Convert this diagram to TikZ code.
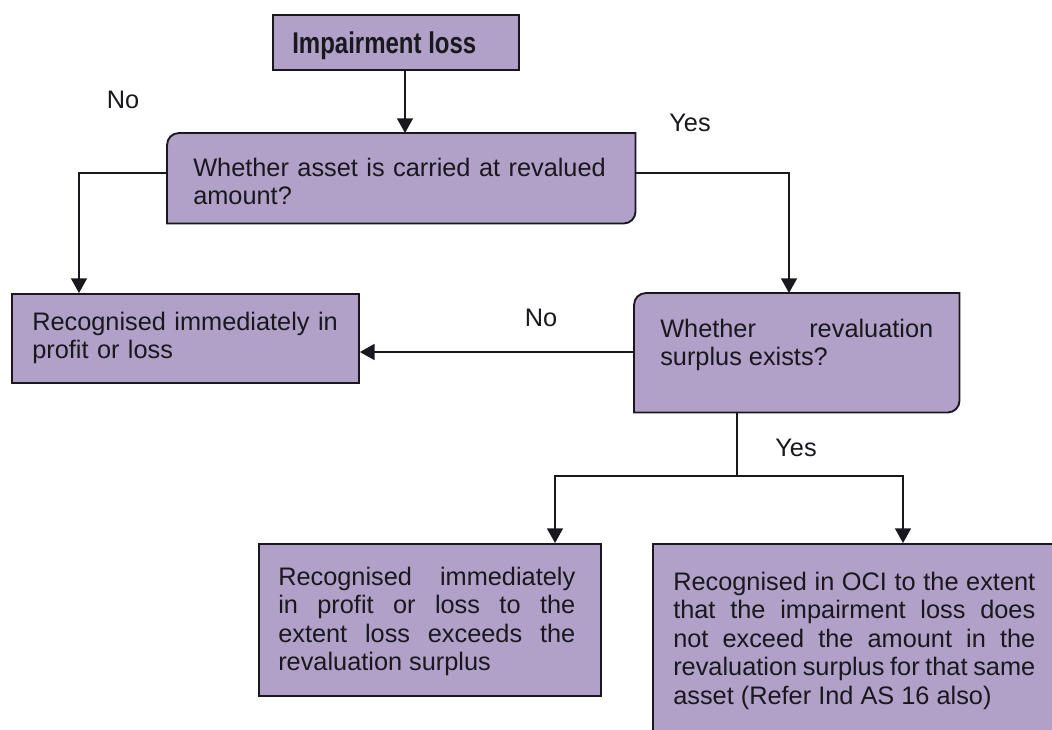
\documentclass[tikz,border=0pt]{standalone}
\usepackage{fontspec}
\setmainfont{Liberation Sans}
\usetikzlibrary{arrows.meta}
\definecolor{boxfill}{RGB}{177,160,199}
\definecolor{ink}{RGB}{26,24,30}
\newcommand\flowfont{\fontsize{19}{21.4}\selectfont}
\hbadness=10000
\hfuzz=20pt

\begin{document}
\begin{tikzpicture}[x=0.75pt,y=-0.75pt,
  box/.style={draw=ink, fill=boxfill, line width=1.4pt, inner sep=0pt, anchor=north west},
  ghost/.style={inner sep=0pt, anchor=north west},
  shapeline/.style={draw=ink, fill=boxfill, line width=1.4pt},
  txt/.style={anchor=base west, inner sep=0pt, text=ink, font=\flowfont, align=left},
  jtxt/.style={txt, align=justify},
  lbl/.style={anchor=base, inner sep=0pt, text=ink, font=\flowfont},
  flow/.style={draw=ink, line width=1.1pt},
  arr/.style={flow, -{Triangle[length=11pt,width=12pt]}},
]
\useasboundingbox (0,0) rectangle (1052,729);
\clip (0,0) rectangle (1052,729);

% boxes
\node[box, minimum width=184.5pt, minimum height=41.25pt] (imp) at (272,14) {};
\node[ghost, minimum width=351pt, minimum height=67.5pt] (d1) at (167,133) {};
\node[box, minimum width=260.25pt, minimum height=66.75pt] (rec1) at (11,293) {};
\node[ghost, minimum width=243.75pt, minimum height=89.25pt] (d2) at (634,293) {};
\node[box, minimum width=256.5pt, minimum height=114pt] (rec2) at (258,543) {};
\node[box, minimum width=345pt, minimum height=150pt] (rec3) at (652,543) {};

% decision boxes: rounded top-left and bottom-right corners
\filldraw[shapeline] (d1.south west) -- ([yshift=-9pt]d1.north west)
  arc[start angle=180, end angle=90, radius=9pt] -- (d1.north east)
  -- ([yshift=9pt]d1.south east) arc[start angle=0, end angle=-90, radius=9pt] -- cycle;
\filldraw[shapeline] (d2.south west) -- ([yshift=-9pt]d2.north west)
  arc[start angle=180, end angle=90, radius=9pt] -- (d2.north east)
  -- ([yshift=9pt]d2.south east) arc[start angle=0, end angle=-90, radius=9pt] -- cycle;

% box texts
\node[anchor=base west, inner sep=0pt, text=ink] (impt) at (292,53)
  {\scalebox{0.8}[1]{\fontsize{22.5}{25}\selectfont\bfseries Impairment loss}};
\node[txt, text width=330pt] (d1t) at (193,176) {Whether asset is carried at revalued\\amount?};
\node[jtxt, text width=204.75pt] (d2t) at (660,337) {Whether revaluation\linebreak surplus exists?};
\node[txt, text width=240pt] (rec1t) at (32,330) {Recognised immediately in\\profit or loss};
\node[jtxt, text width=222.75pt] (rec2t) at (278,585)
  {Recognised immediately\linebreak in profit or loss to the\linebreak extent loss exceeds the\linebreak revaluation surplus};
\node[jtxt, text width=271.5pt] (rec3t) at (673,590)
  {Recognised in OCI to the extent\linebreak that the impairment loss does\linebreak not exceed the amount in the\linebreak revaluation surplus for that same\linebreak asset (Refer Ind AS 16 also)};

% connector bend points
\coordinate (c1) at (405,0);
\coordinate (cl) at (79,173);
\coordinate (cr) at (789,173);
\coordinate (cn) at (0,352);
\coordinate (cs) at (737,476);
\coordinate (ca) at (555,476);
\coordinate (cb) at (903,476);

% connectors
\draw[arr] (imp.south -| c1) -- (d1.north -| c1);
\draw[arr] (d1.west |- cl) -- (cl) -- (rec1.north -| cl);
\draw[arr] (d1.east |- cr) -- (cr) -- (d2.north -| cr);
\draw[arr] (d2.west |- cn) -- (rec1.east |- cn);
\draw[flow] (d2.south -| cs) -- (cs);
\draw[arr] (cs) -- (ca) -- (rec2.north -| ca);
\draw[arr] (cs) -- (cb) -- (rec3.north -| cb);

% branch labels
\node[lbl] (no1) at (123,108) {No};
\node[lbl] (yes1) at (690,131) {Yes};
\node[lbl] (no2) at (541,326) {No};
\node[lbl] (yes2) at (796,456) {Yes};
\end{tikzpicture}
\end{document}
